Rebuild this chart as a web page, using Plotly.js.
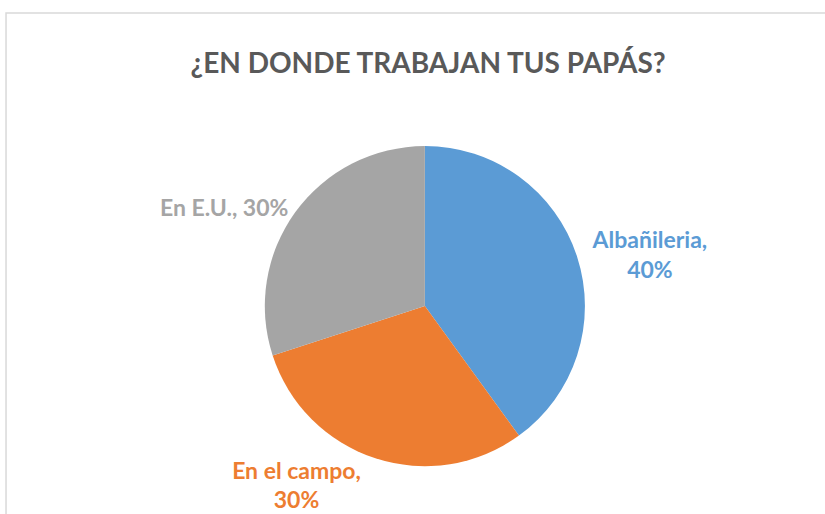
<!DOCTYPE html>
<html>
<head>
<meta charset="utf-8">
<script src="https://cdn.plot.ly/plotly-3.0.1.min.js"></script>
<style>
  body { margin: 0; background: #fff; }
  #chart { width: 825px; height: 514px; }
</style>
</head>
<body>
<div id="chart"></div>
<script>
// datos de la grafica
const labels = ["Albañileria", "En el campo", "En E.U."];
const values = [40, 30, 30];
const colors = ["#5b9bd5", "#ed7d31", "#a5a5a5"];

const trace = {
  type: "pie",
  labels: labels,
  values: values,
  sort: false,
  direction: "clockwise",
  rotation: 0,
  marker: { colors: colors, line: { width: 0 } },
  texttemplate: ["%{label},<br>%{percent:.0%}", "%{label},<br>%{percent:.0%}", "%{label}, %{percent:.0%}"],
  textposition: "outside",
  outsidetextfont: { family: "Lato, sans-serif", size: 23, weight: "bold", color: colors },
  hoverinfo: "none",
  domain: { x: [0.321, 0.709], y: [0.093, 0.716] },
  showlegend: false,
};

const layout = {
  width: 825,
  height: 514,
  margin: { l: 0, r: 0, t: 0, b: 0 },
  paper_bgcolor: "#ffffff",
  title: {
    text: "¿EN DONDE TRABAJAN TUS PAPÁS?",
    font: { family: "Lato, sans-serif", size: 28, weight: "bold", color: "#595959" },
    x: 0.519,
    xanchor: "center",
    y: 0.877,
    yanchor: "middle",
  },
  shapes: [
    {
      type: "rect",
      xref: "paper",
      yref: "paper",
      x0: 0.0073,
      x1: 1.05,
      y0: -0.05,
      y1: 0.9747,
      line: { color: "#d9d9d9", width: 1.5 },
    },
  ],
};

Plotly.newPlot("chart", [trace], layout, { staticPlot: true });
</script>
</body>
</html>
